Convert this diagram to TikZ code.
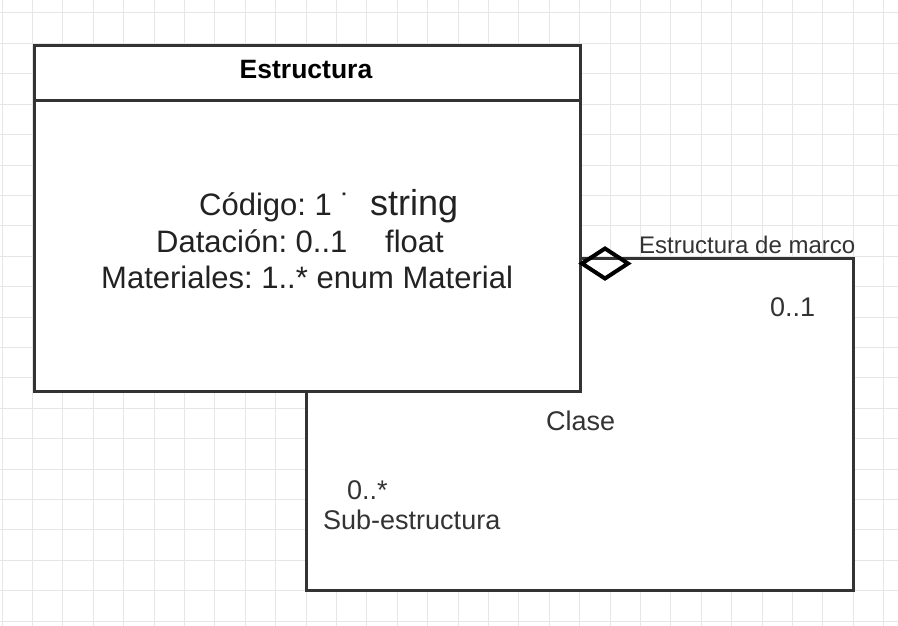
\documentclass[tikz,border=0pt]{standalone}
\usepackage{fontspec}
\setmainfont{Liberation Sans}
\usetikzlibrary{arrows.meta}
\definecolor{gridc}{HTML}{E6E6E6}
\definecolor{linec}{HTML}{333333}
\definecolor{txtc}{HTML}{222222}
\definecolor{lblc}{HTML}{333333}
\tikzset{
  gridline/.style={draw=gridc, line width=1pt},
  classbox/.style={draw=linec, line width=3pt, fill=white, minimum width=546pt, minimum height=346pt, inner sep=0pt},
  conn/.style={draw=linec, line width=3pt, line join=miter},
  aggr/.style={draw=black, line width=4pt, line join=miter},
  attr/.style={anchor=base west, inner sep=0pt, text=txtc, font=\fontsize{31}{36}\selectfont},
  lbl/.style={anchor=base west, inner sep=0pt, text=lblc, font=\fontsize{27}{31}\selectfont},
}
\begin{document}
\frenchspacing
\begin{tikzpicture}[x=1pt,y=-1pt]
\useasboundingbox (0,0) rectangle (898,626);
\fill[white] (0,0) rectangle (898,626);
% grid
\foreach \i in {0,...,29} { \draw[gridline] ({2+30.4*\i},0) -- ({2+30.4*\i},626); }
\foreach \j in {0,...,20} { \draw[gridline] (0,{13+30.4*\j}) -- (898,{13+30.4*\j}); }
% loop area
\fill[white] (306,258) rectangle (853,590);
% class box
\node[classbox, anchor=north west] (cls) at (33,44) {};
\draw[conn] ([yshift=-57pt]cls.north west) -- ([yshift=-57pt]cls.north east);
\node[anchor=base, inner sep=0pt, font=\fontsize{26.5}{30}\selectfont\bfseries] (title) at (306,79) {Estructura};
% attributes
\node[attr] (a1) at (199,215) {Código: 1 ˙};
\node[attr, font=\fontsize{36}{40}\selectfont] (a1t) at (370,215) {string};
\node[attr] (a2) at (156,252) {Datación: 0..1};
\node[attr] (a2t) at (385,252) {float};
\node[attr] (a3) at (101,288) {Materiales: 1..* enum Material};
% self association
\coordinate (s0) at ([yshift=-40pt]cls.east);
\coordinate (dtip) at ([yshift=-45pt]cls.east);
\coordinate (c1) at (853,257);
\coordinate (c2) at (853,590);
\coordinate (c3) at (306,590);
\draw[conn] (s0) -- (s0 -| c1) -- (c2) -- (c3) -- (c3 |- cls.south);
\draw[aggr] (dtip) -- ++(23,-15) -- ++(23,15) -- ++(-23,15) -- cycle;
% labels
\node[lbl, font=\fontsize{24}{28}\selectfont] (role1) at (639,253) {Estructura de marco};
\node[lbl] (m1) at (770,316) {0..1};
\node[lbl] (cl) at (546,430) {Clase};
\node[lbl] (m2) at (347,499) {0..*};
\node[lbl] (role2) at (323,529) {Sub-estructura};
\end{tikzpicture}
\end{document}
